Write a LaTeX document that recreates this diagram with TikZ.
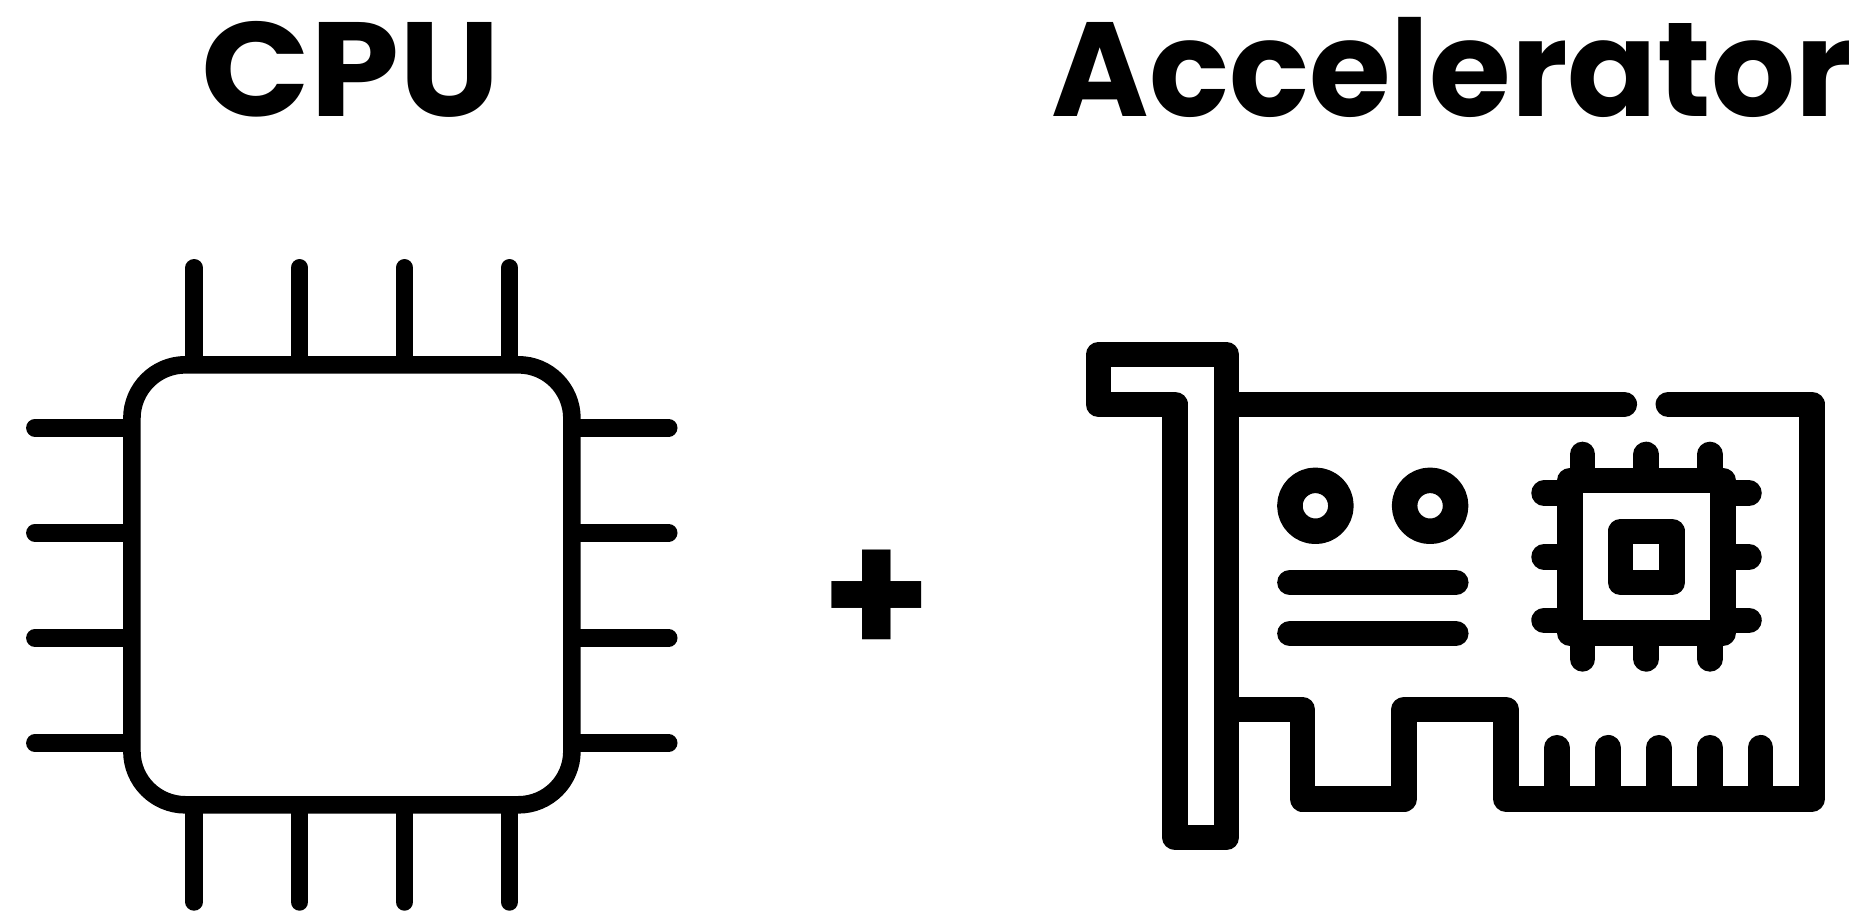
\documentclass[tikz,border=0pt]{standalone}
\usepackage{fontspec}
\setmainfont{Poppins}
\tikzset{
  cpuline/.style={line width=17.6pt,line cap=round,line join=round},
  cardline/.style={line width=25.5pt,line cap=round,line join=round},
  title/.style={inner sep=0pt,outer sep=0pt,anchor=base,font=\fontsize{134}{134}\selectfont\bfseries}
}
\begin{document}
\begin{tikzpicture}[x=1pt,y=-1pt]
\useasboundingbox (0,0) rectangle (1865,913);
\fill[white] (0,0) rectangle (1865,913);
% titles
\node[title] (cpu) at (351,116.5) {\scalebox{1.066}[1]{CPU}};
\node[title] (acc) at (1452,116.5) {\scalebox{0.987}[1]{Accelerator}};
\node[title,font=\fontsize{176}{176}\selectfont\bfseries] (plus) at (876.5,656.5) {+};
% CPU
\draw[cpuline,rounded corners=53.5pt] (131.9,364.8) rectangle (571.9,804.8);
\foreach \x in {194.2,299.6,404.5,509.4}{
  \draw[cpuline] (\x,267.8) -- (\x,356);
  \draw[cpuline] (\x,813.6) -- (\x,901.9);
}
\foreach \y in {427.7,532.8,638,743.1}{
  \draw[cpuline] (34.9,\y) -- (123.1,\y);
  \draw[cpuline] (580.7,\y) -- (668.7,\y);
}
% Card
\draw[cardline] (1175.2,404.3) -- (1098.5,404.3) -- (1098.5,354.5) -- (1226.3,354.5) -- (1226.3,837.5) -- (1175.2,837.5) -- cycle;
\draw[cardline] (1239,404.3) -- (1624.3,404.3);
\draw[cardline] (1239,709.4) -- (1302.3,709.4) -- (1302.3,798.8) -- (1404.2,798.8) -- (1404.2,709.4) -- (1505.9,709.4) -- (1505.9,798.8) -- (1812,798.8) -- (1812,404.3) -- (1668.3,404.3);
\foreach \x in {1556.9,1608.2,1659,1709.9,1760.7}{
  \draw[cardline] (\x,747.7) -- (\x,786);
}
\foreach \x in {1315.4,1430.1}{
  \draw[cardline] (\x,505.8) circle[radius=25.5pt];
}
\draw[cardline] (1289.9,582.4) -- (1455.8,582.4);
\draw[cardline] (1289.9,633.4) -- (1455.8,633.4);
% chip
\draw[cardline] (1569.8,480.5) rectangle (1723,633);
\foreach \x in {1582.6,1646.2,1709.9}{
  \draw[cardline] (\x,454.4) -- (\x,467.7);
  \draw[cardline] (\x,645.8) -- (\x,658.9);
}
\foreach \y in {493.2,556.9,620.3}{
  \draw[cardline] (1544,\y) -- (1557,\y);
  \draw[cardline] (1735.8,\y) -- (1749,\y);
}
\draw[cardline] (1620.6,531.3) rectangle (1672.2,582.4);
\end{tikzpicture}
\end{document}
